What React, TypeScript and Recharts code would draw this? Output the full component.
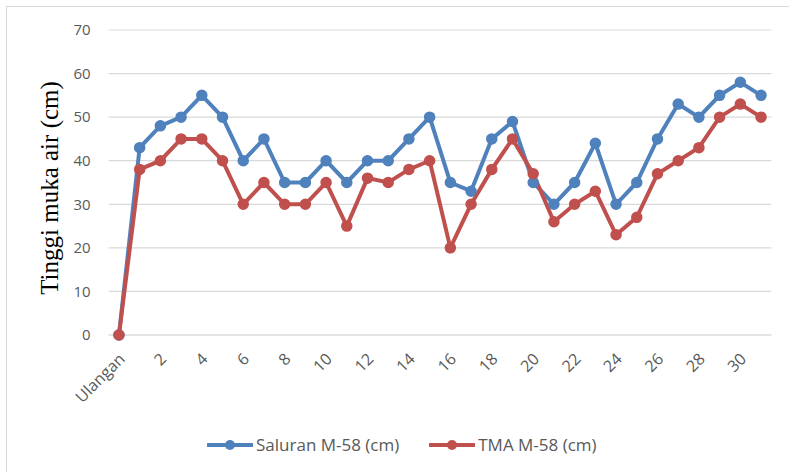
import React from 'react';
import { LineChart, Line, XAxis, YAxis, CartesianGrid } from 'recharts';

const categories = ['Ulangan', '1', '2', '3', '4', '5', '6', '7', '8', '9', '10', '11', '12', '13', '14', '15', '16', '17', '18', '19', '20', '21', '22', '23', '24', '25', '26', '27', '28', '29', '30', '31'];
const saluran = [0, 43, 48, 50, 55, 50, 40, 45, 35, 35, 40, 35, 40, 40, 45, 50, 35, 33, 45, 49, 35, 30, 35, 44, 30, 35, 45, 53, 50, 55, 58, 55];
const tma = [0, 38, 40, 45, 45, 40, 30, 35, 30, 30, 35, 25, 36, 35, 38, 40, 20, 30, 38, 45, 37, 26, 30, 33, 23, 27, 37, 40, 43, 50, 53, 50];
const yTicks = [0, 10, 20, 30, 40, 50, 60, 70];
const seriesNames = ['Saluran M-58 (cm)', 'TMA M-58 (cm)'];
const yLabel = 'Tinggi muka air (cm)';

const BLUE = '#4F81BD';
const RED = '#C0504D';
const FONT = '"Open Sans", sans-serif';
const TICK_COLOR = '#595959';

const data = categories.map((c, i) => ({ cat: c, saluran: saluran[i], tma: tma[i] }));

const XTick = (props: any) => {
  const { x, y, payload } = props;
  return (
    <g transform={`translate(${x + 3},${y + 13})`}>
      <text x={0} y={0} dy="0.35em" textAnchor="end" transform="rotate(-45)" fill={TICK_COLOR} fontSize={16} fontFamily={FONT}>
        {payload.value}
      </text>
    </g>
  );
};

const LegendIcon = ({ color }: { color: string }) => (
  <svg width={46} height={14} style={{ display: 'block' }}>
    <line x1={1} y1={7} x2={45} y2={7} stroke={color} strokeWidth={4} strokeLinecap="round" />
    <circle cx={23} cy={7} r={5} fill={color} />
  </svg>
);

export default function App() {
  return (
    <div style={{ position: 'absolute', left: 0, top: 0, width: 789, height: 472, background: '#fff', overflow: 'hidden' }}>
      <div style={{ position: 'absolute', left: 6, top: 6, width: 783, height: 466, borderTop: '1px solid #d9d9d9', borderLeft: '1px solid #d9d9d9', boxSizing: 'border-box' }} />
      <div style={{ position: 'absolute', left: 0, top: 0 }}>
        <LineChart width={789} height={472} data={data} margin={{ top: 30, right: 17.6, left: 0, bottom: 77 }}>
          <CartesianGrid vertical={false} stroke="#d9d9d9" strokeWidth={1.2} />
          <XAxis
            dataKey="cat"
            interval={1}
            padding={{ left: 10.35, right: 10.35 }}
            height={60}
            axisLine={{ stroke: '#d9d9d9', strokeWidth: 1.2 }}
            tickLine={false}
            tick={<XTick />}
          />
          <YAxis
            width={108.6}
            domain={[0, 70]}
            ticks={yTicks}
            axisLine={false}
            tickLine={false}
            tickSize={6}
            tickMargin={12}
            tick={{ fill: TICK_COLOR, fontSize: 15, fontFamily: FONT }}
            label={{
              content: () => (
                <text x={58} y={188} transform="rotate(-90 58 188)" textAnchor="middle" fontFamily='"Liberation Serif", serif' fontSize={25} fill="#000">
                  {yLabel}
                </text>
              ),
            }}
          />
          <Line dataKey="saluran" name={seriesNames[0]} stroke={BLUE} strokeWidth={4} dot={{ r: 5, fill: BLUE, stroke: BLUE, strokeWidth: 1.5 }} isAnimationActive={false} />
          <Line dataKey="tma" name={seriesNames[1]} stroke={RED} strokeWidth={4} dot={{ r: 5, fill: RED, stroke: RED, strokeWidth: 1.5 }} isAnimationActive={false} />
        </LineChart>
      </div>
      <div style={{ position: 'absolute', left: 207, top: 433, display: 'flex', alignItems: 'center', fontFamily: FONT, fontSize: 17, color: TICK_COLOR, whiteSpace: 'nowrap' }}>
        <LegendIcon color={BLUE} />
        <span style={{ marginLeft: 3 }}>{seriesNames[0]}</span>
        <span style={{ width: 30 }} />
        <LegendIcon color={RED} />
        <span style={{ marginLeft: 3 }}>{seriesNames[1]}</span>
      </div>
    </div>
  );
}
